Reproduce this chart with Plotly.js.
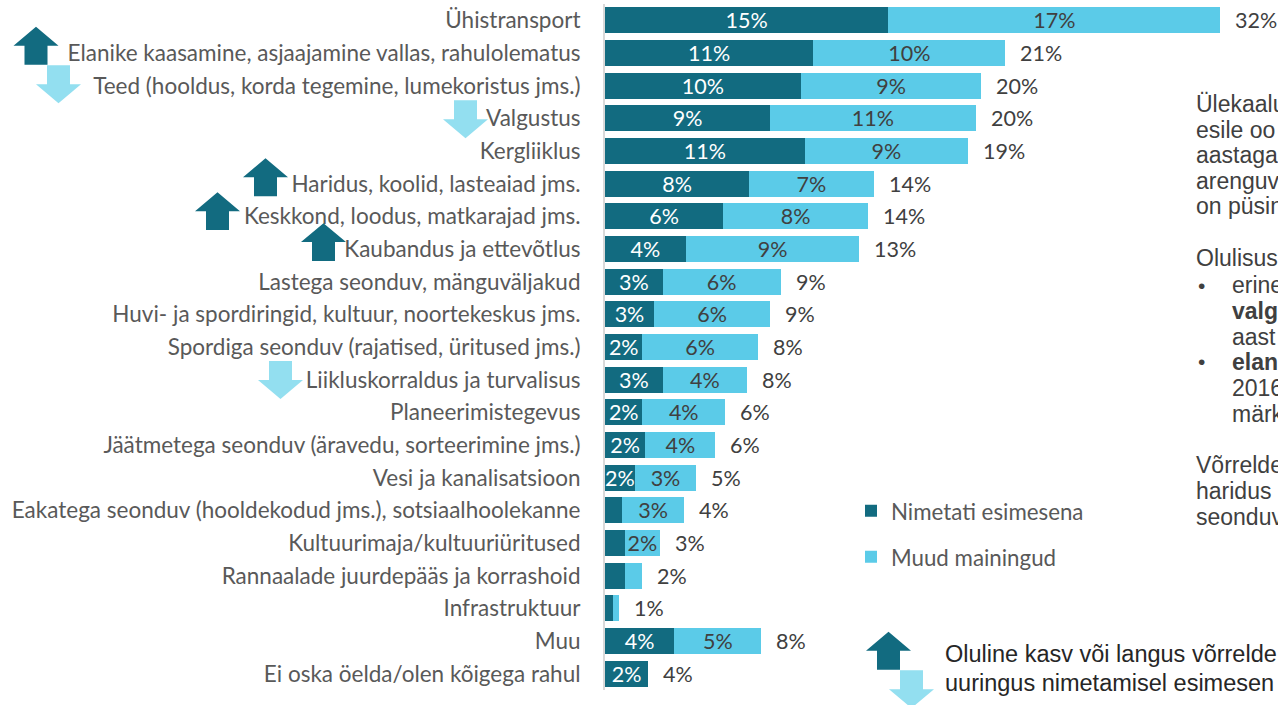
<!DOCTYPE html>
<html>
<head>
<meta charset="utf-8">
<script src="https://cdn.plot.ly/plotly-3.0.1.min.js"></script>
<style>html,body{margin:0;padding:0;background:#fff;overflow:hidden}#chart{width:1278px;height:705px}</style>
</head>
<body>
<div id="chart"></div>
<script>
const categories = [
  "Ühistransport",
  "Elanike kaasamine, asjaajamine vallas, rahulolematus",
  "Teed (hooldus, korda tegemine, lumekoristus jms.)",
  "Valgustus",
  "Kergliiklus",
  "Haridus, koolid, lasteaiad jms.",
  "Keskkond, loodus, matkarajad jms.",
  "Kaubandus ja ettevõtlus",
  "Lastega seonduv, mänguväljakud",
  "Huvi- ja spordiringid, kultuur, noortekeskus jms.",
  "Spordiga seonduv (rajatised, üritused jms.)",
  "Liikluskorraldus ja turvalisus",
  "Planeerimistegevus",
  "Jäätmetega seonduv (äravedu, sorteerimine jms.)",
  "Vesi ja kanalisatsioon",
  "Eakatega seonduv (hooldekodud jms.), sotsiaalhoolekanne",
  "Kultuurimaja/kultuuriüritused",
  "Rannaalade juurdepääs ja korrashoid",
  "Infrastruktuur",
  "Muu",
  "Ei oska öelda/olen kõigega rahul"
];
const firstValues = [14.75,10.85,10.2,8.6,10.4,7.5,6.15,4.2,3.0,2.55,1.95,3.0,1.95,2.1,1.55,0.9,1.05,1.05,0.4,3.6,2.25];
const otherValues = [17.3,10.0,9.4,10.7,8.5,6.5,7.55,9.05,6.15,6.05,6.0,4.4,4.3,3.65,3.2,3.2,1.8,0.9,0.35,4.55,0];
const firstLabels = ["15%","11%","10%","9%","11%","8%","6%","4%","3%","3%","2%","3%","2%","2%","2%","","","","","4%","2%"];
const otherLabels = ["17%","10%","9%","11%","9%","7%","8%","9%","6%","6%","6%","4%","4%","4%","3%","3%","2%","","","5%",""];
const totalLabels = ["32%","21%","20%","20%","19%","14%","14%","13%","9%","9%","8%","8%","6%","6%","5%","4%","3%","2%","1%","8%","4%"];
const seriesNames = ["Nimetati esimesena","Muud mainingud"];
const sideLines = ["Ülekaalu","esile oo","aastaga","arenguv","on püsin","Olulisus","erine","<b>valg</b>","aast","<b>elan</b>","2016","märk","Võrrelde","haridus","seonduv"];
const noteLines = ["Oluline kasv või langus võrrelde","uuringus nimetamisel esimesen"];

const W = 1278, H = 705;
const M = {l:605, r:0, t:3.65, b:14.65};
const PW = W-M.l-M.r, PH = H-M.t-M.b;
const px = x => (x-M.l)/PW;
const py = y => 1-(y-M.t)/PH;
const DARK = "#126B80", LIGHT = "#5BCBE8", PALE = "#93DFF0";
const LAT = "Lato, sans-serif", ARI = "'Liberation Sans', Arial, sans-serif";

function arrow(dir, left, top, color){
  const w=45, h=38, st=11.5, sh=19, c=left+w/2;
  const pts = dir==="up"
    ? [[c,top],[left+w,top+sh],[c+st,top+sh],[c+st,top+h],[c-st,top+h],[c-st,top+sh],[left,top+sh]]
    : [[c-st,top],[c+st,top],[c+st,top+h-sh],[left+w,top+h-sh],[c,top+h],[left,top+h-sh],[c-st,top+h-sh]];
  return {type:"path",xref:"paper",yref:"paper",layer:"above",fillcolor:color,line:{width:0},
    path:"M"+pts.map(p=>px(p[0]).toFixed(5)+","+py(p[1]).toFixed(5)).join("L")+"Z"};
}
const shapes = [
  arrow("up",13.5,26.5,DARK), arrow("down",36,65,PALE), arrow("down",443,100,PALE),
  arrow("up",243,158,DARK), arrow("up",195,192,DARK), arrow("up",301,223,DARK),
  arrow("down",258,361,PALE), arrow("up",866,632,DARK), arrow("down",889,670.5,PALE)
];

const sideX = [1196,1196,1196,1196,1196,1196,1232,1232,1232,1232,1232,1232,1196,1196,1196];
const sideY = [104,129.5,155,180.5,206,258,285,311,337,362,388,414,465,491,517];
const annotations = [];
categories.forEach((c,i)=>{
  annotations.push({xref:"x",yref:"y",x:firstValues[i]+otherValues[i],y:c,text:totalLabels[i],showarrow:false,
    xanchor:"left",yanchor:"middle",xshift:13,font:{family:LAT,size:21.5,color:"#404040"}});
});
sideLines.forEach((t,i)=>{
  annotations.push({xref:"paper",yref:"paper",x:px(sideX[i]-2),y:py(sideY[i]),text:t,showarrow:false,align:"left",
    xanchor:"left",yanchor:"middle",font:{family:ARI,size:23,color:"#404040"}});
});
annotations.push({xref:"paper",yref:"paper",x:px(1196),y:py(285),text:"•",showarrow:false,xanchor:"left",yanchor:"middle",font:{family:ARI,size:21,color:"#404040"}});
annotations.push({xref:"paper",yref:"paper",x:px(1196),y:py(362),text:"•",showarrow:false,xanchor:"left",yanchor:"middle",font:{family:ARI,size:21,color:"#404040"}});
noteLines.forEach((t,i)=>{
  annotations.push({xref:"paper",yref:"paper",x:px(943),y:py(654+i*29),text:t,showarrow:false,align:"left",
    xanchor:"left",yanchor:"middle",font:{family:ARI,size:23.5,color:"#262626"}});
});

const bar = (name,vals,labels,color,tcolor)=>({
  type:"bar",orientation:"h",name:name,y:categories,x:vals,text:labels,
  textposition:"inside",insidetextanchor:"middle",constraintext:"none",textangle:0,
  textfont:{family:LAT,size:21.5,color:tcolor},
  marker:{color:color,line:{width:0}},legendgroup:name,cliponaxis:false,hoverinfo:"skip"
});
const traces = [
  bar(seriesNames[0],firstValues,firstLabels,DARK,"#FFFFFF"),
  bar(seriesNames[1],otherValues,otherLabels,LIGHT,"#404040")
];
const layout = {
  width:W,height:H,margin:M,paper_bgcolor:"#fff",plot_bgcolor:"#fff",
  barmode:"stack",bargap:0.2,showlegend:true,
  xaxis:{range:[0,35.05],visible:false,fixedrange:true},
  yaxis:{type:"category",categoryorder:"array",categoryarray:categories,range:[20.5,-0.5],showgrid:false,zeroline:false,
    showline:true,linecolor:"#D9D9D9",linewidth:2,ticks:"",ticklabelstandoff:18,fixedrange:true,
    tickfont:{family:LAT,size:22.5,color:"#595959"}},
  legend:{x:px(857),y:py(490),xanchor:"left",yanchor:"top",traceorder:"grouped",tracegroupgap:14,indentation:-6,
    font:{family:LAT,size:22.3,color:"#595959"},bgcolor:"rgba(0,0,0,0)",itemclick:false,itemdoubleclick:false},
  shapes:shapes,annotations:annotations
};
Plotly.newPlot("chart",traces,layout,{displayModeBar:false,responsive:false});
</script>
</body>
</html>
